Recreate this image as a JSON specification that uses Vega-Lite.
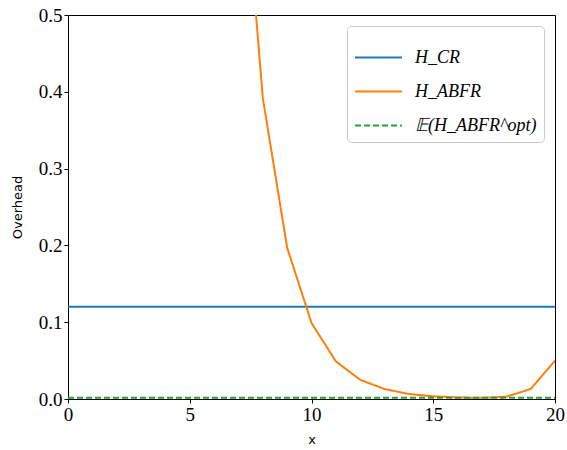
{
  "$schema": "https://vega.github.io/schema/vega-lite/v6.json",
  "width": 487,
  "height": 384,
  "autosize": {"type": "none"},
  "padding": {"left": 68, "top": 15, "right": 12, "bottom": 51},
  "background": "white",
  "config": {
    "view": {"stroke": "black", "strokeWidth": 1},
    "axis": {
      "grid": false,
      "domainColor": "black",
      "tickColor": "black",
      "tickSize": 4,
      "labelFlush": false,
      "labelFont": "Liberation Serif",
      "labelFontSize": 19,
      "labelColor": "black",
      "titleFont": "DejaVu Sans",
      "titleFontSize": 13,
      "titleFontWeight": "normal",
      "titleColor": "black"
    }
  },
  "data": {
    "values": [
      {"x": 0, "y": 0.12, "series": "H_CR"},
      {"x": 20, "y": 0.12, "series": "H_CR"},
      {"x": 7, "y": 0.78, "series": "H_ABFR"},
      {"x": 8, "y": 0.392, "series": "H_ABFR"},
      {"x": 9, "y": 0.197, "series": "H_ABFR"},
      {"x": 10, "y": 0.099, "series": "H_ABFR"},
      {"x": 11, "y": 0.049, "series": "H_ABFR"},
      {"x": 12, "y": 0.025, "series": "H_ABFR"},
      {"x": 13, "y": 0.013, "series": "H_ABFR"},
      {"x": 14, "y": 0.0065, "series": "H_ABFR"},
      {"x": 15, "y": 0.0035, "series": "H_ABFR"},
      {"x": 16, "y": 0.002, "series": "H_ABFR"},
      {"x": 17, "y": 0.0015, "series": "H_ABFR"},
      {"x": 18, "y": 0.003, "series": "H_ABFR"},
      {"x": 19, "y": 0.013, "series": "H_ABFR"},
      {"x": 20, "y": 0.05, "series": "H_ABFR"},
      {"x": 0, "y": 0.0015, "series": "𝔼(H_ABFR^opt)"},
      {"x": 20, "y": 0.0015, "series": "𝔼(H_ABFR^opt)"}
    ]
  },
  "mark": {"type": "line", "strokeWidth": 2, "clip": true},
  "encoding": {
    "x": {
      "field": "x", "type": "quantitative", "title": "x",
      "scale": {"domain": [0, 20], "nice": false},
      "axis": {"values": [0, 5, 10, 15, 20], "titlePadding": 9}
    },
    "y": {
      "field": "y", "type": "quantitative", "title": "Overhead",
      "scale": {"domain": [0, 0.5], "nice": false},
      "axis": {"values": [0, 0.1, 0.2, 0.3, 0.4, 0.5], "format": ".1f", "titlePadding": 14}
    },
    "color": {
      "field": "series", "type": "nominal", "title": null,
      "scale": {
        "domain": ["H_CR", "H_ABFR", "𝔼(H_ABFR^opt)"],
        "range": ["#1f77b4", "#ff7f0e", "#2ca02c"]
      },
      "legend": {
        "orient": "top-right",
        "offset": 11,
        "fillColor": "white",
        "strokeColor": "#cccccc",
        "cornerRadius": 4,
        "padding": 7,
        "symbolType": "stroke",
        "symbolSize": 2200,
        "symbolStrokeWidth": 2,
        "labelFont": "Liberation Serif",
        "labelFontStyle": "italic",
        "labelFontSize": 18,
        "labelColor": "black",
        "rowPadding": -3,
        "labelOffset": 12
      }
    },
    "strokeDash": {
      "field": "series", "type": "nominal", "title": null,
      "scale": {
        "domain": ["H_CR", "H_ABFR", "𝔼(H_ABFR^opt)"],
        "range": [[1, 0], [1, 0], [6, 3]]
      }
    }
  }
}
